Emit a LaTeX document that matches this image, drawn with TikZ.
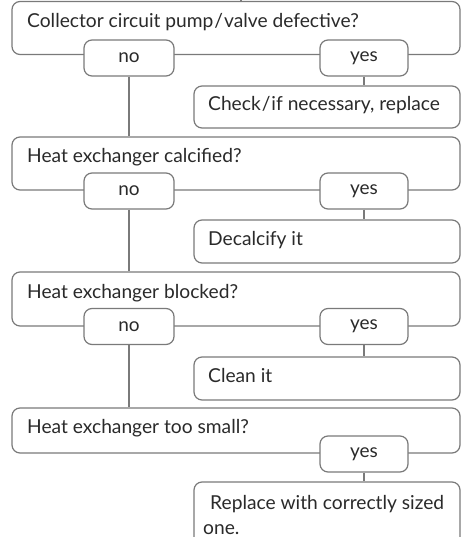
\documentclass[tikz,border=0pt]{standalone}
\usepackage{fontspec}
\setmainfont{Lato}
\definecolor{linegray}{HTML}{7A7A7A}
\definecolor{txtgray}{HTML}{2A2A2A}
\tikzset{
  qbox/.style={draw=linegray, line width=1.2pt, rounded corners=8pt, fill=white, minimum width=448pt, inner sep=0pt},
  abox/.style={draw=linegray, line width=1.2pt, rounded corners=8pt, fill=white, minimum width=266pt, inner sep=0pt},
  ansbox/.style={draw=linegray, line width=1.2pt, rounded corners=8pt, fill=white, minimum height=36pt, inner sep=0pt, text=txtgray, font=\fontsize{19}{22}\selectfont},
  txt/.style={anchor=base west, inner sep=0pt, text=txtgray, font=\fontsize{19.2}{22}\selectfont},
  conn/.style={draw=linegray, line width=1.2pt}
}
\newcommand{\slsh}{\kern1pt/\kern1pt}
\begin{document}
\begin{tikzpicture}[x=1pt,y=-1pt]
\clip (0,0) rectangle (463,537);
% block 1
\node[qbox, minimum height=53pt] (q1) at (236,28) {};
\node[txt] (q1t) at (27,28) {Collector circuit pump\slsh valve defective?};
\node[ansbox, minimum width=90pt] (no1) at (129,58) {no};
\node[ansbox, minimum width=88pt] (yes1) at (364,58) {yes};
\node[abox, minimum height=42pt] (a1) at (327,107) {};
\node[txt] (a1t) at (208,111) {Check\slsh if necessary, replace};
% block 2
\node[qbox, minimum height=53pt] (q2) at (236,163.5) {};
\node[txt] (q2t) at (27,163) {Heat exchanger calcified?};
\node[ansbox, minimum width=90pt] (no2) at (129,191) {no};
\node[ansbox, minimum width=88pt] (yes2) at (364,191) {yes};
\node[abox, minimum height=43pt] (a2) at (327,241.5) {};
\node[txt] (a2t) at (208,245) {Decalcify it};
% block 3
\node[qbox, minimum height=54pt] (q3) at (236,299) {};
\node[txt] (q3t) at (27,298) {Heat exchanger blocked?};
\node[ansbox, minimum width=90pt] (no3) at (129,326.5) {no};
\node[ansbox, minimum width=88pt] (yes3) at (364,326.5) {yes};
\node[abox, minimum height=43pt] (a3) at (327,378.5) {};
\node[txt] (a3t) at (208,382) {Clean it};
% block 4
\node[qbox, minimum height=45pt] (q4) at (236,430.5) {};
\node[txt] (q4t) at (27,433) {Heat exchanger too small?};
\node[ansbox, minimum width=88pt] (yes4) at (364,454) {yes};
\node[abox, minimum height=70pt] (a4) at (327,517) {};
\node[txt] (a4t) at (210,509) {Replace with correctly sized};
\node[txt] (a4u) at (203,534) {one.};
% top stub
\coordinate (top) at (241,-5);
% connectors
\draw[conn] (top) -- (top |- q1.north);
\draw[conn] (no1.south) -- (no1.south |- q2.north);
\draw[conn] (no2.south) -- (no2.south |- q3.north);
\draw[conn] (no3.south) -- (no3.south |- q4.north);
\draw[conn] (yes1.south) -- (yes1.south |- a1.north);
\draw[conn] (yes2.south) -- (yes2.south |- a2.north);
\draw[conn] (yes3.south) -- (yes3.south |- a3.north);
\draw[conn] (yes4.south) -- (yes4.south |- a4.north);
\end{tikzpicture}
\end{document}
